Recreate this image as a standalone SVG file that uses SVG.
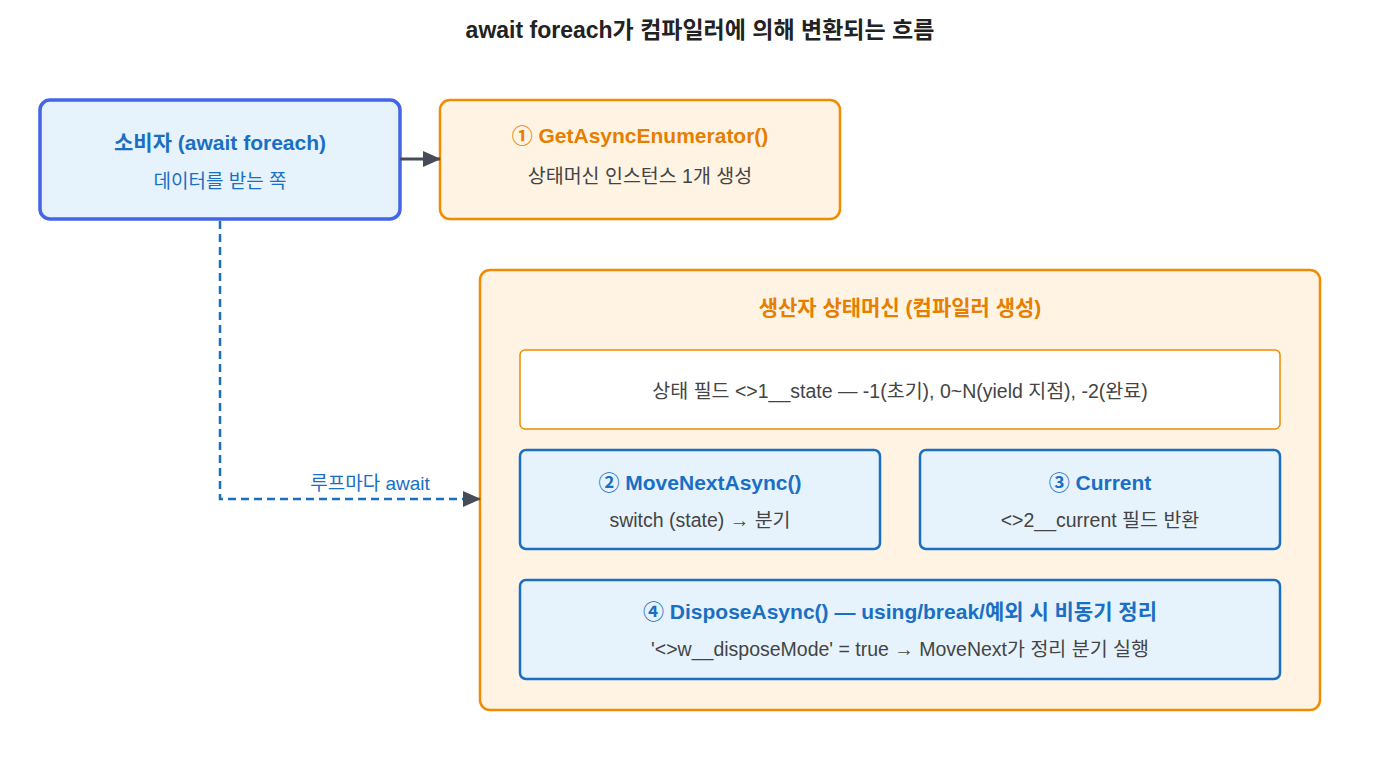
<svg xmlns="http://www.w3.org/2000/svg" width="1400" height="760" viewBox="0 0 1400 760">
<style>
text{font-family:"Liberation Sans","Noto Sans CJK KR",sans-serif;text-anchor:middle}
.t{font-size:23px;font-weight:bold;fill:#222}
.bb{font-size:21px;font-weight:bold;fill:#1a6fc4}
.ob{font-size:21px;font-weight:bold;fill:#e67e00}
.g{font-size:19.5px;fill:#444}
.bl{font-size:19px;fill:#1a6fc4}
.blue{fill:#e6f3fc;stroke:#1a6fc4;stroke-width:2.5}
.or{fill:#fff3e4;stroke:#f08c00;stroke-width:2.5}
</style>
<defs><marker id="m" markerWidth="18" markerHeight="16" refX="17" refY="8" orient="auto" markerUnits="userSpaceOnUse"><path d="M0,0L18,8L0,16z" fill="#464c55"/></marker></defs>
<rect width="1400" height="760" fill="#fff"/>
<text class="t" x="700" y="38">await foreach가 컴파일러에 의해 변환되는 흐름</text>
<g id="consumer"><rect x="40" y="100" width="360" height="119" rx="10" fill="#e6f3fc" stroke="#4466e6" stroke-width="3.5"/>
<text class="bb" x="220" y="150" font-size="25">소비자 (await foreach)</text><text class="bl" x="220" y="188">데이터를 받는 쪽</text></g>
<g id="get"><rect x="440" y="100" width="400" height="119" rx="10" class="or"/>
<text class="ob" x="640" y="143">① GetAsyncEnumerator()</text><text class="g" x="640" y="183">상태머신 인스턴스 1개 생성</text></g>
<g id="producer"><rect x="480" y="270" width="840" height="440" rx="10" class="or" stroke-width="3"/>
<text class="ob" x="900" y="315" font-size="24">생산자 상태머신 (컴파일러 생성)</text></g>
<g id="state"><rect x="520" y="350" width="760" height="79" rx="5" fill="#fff" stroke="#f08c00" stroke-width="1.5"/>
<text class="g" x="900" y="398" font-size="20.5">상태 필드 &lt;&gt;1__state — -1(초기), 0~N(yield 지점), -2(완료)</text></g>
<g id="move"><rect x="520" y="450" width="360" height="99" rx="6" class="blue"/>
<text class="bb" x="700" y="490">② MoveNextAsync()</text><text class="g" x="700" y="527">switch (state) → 분기</text></g>
<g id="current"><rect x="920" y="450" width="360" height="99" rx="6" class="blue"/>
<text class="bb" x="1100" y="490">③ Current</text><text class="g" x="1100" y="527">&lt;&gt;2__current 필드 반환</text></g>
<g id="dispose"><rect x="520" y="580" width="760" height="99" rx="6" class="blue"/>
<text class="bb" x="900" y="619">④ DisposeAsync() — using/break/예외 시 비동기 정리</text><text class="g" x="900" y="656">'&lt;&gt;w__disposeMode' = true → MoveNext가 정리 분기 실행</text></g>
<g id="connectors">
<line x1="400" y1="159" x2="440" y2="159" stroke="#464c55" stroke-width="3" marker-end="url(#m)"/>
<path d="M220,221V499H480" fill="none" stroke="#1a6fc4" stroke-width="2.5" stroke-dasharray="8,5" marker-end="url(#m)"/>
<text class="bl" x="370" y="490">루프마다 await</text>
</g>
</svg>
